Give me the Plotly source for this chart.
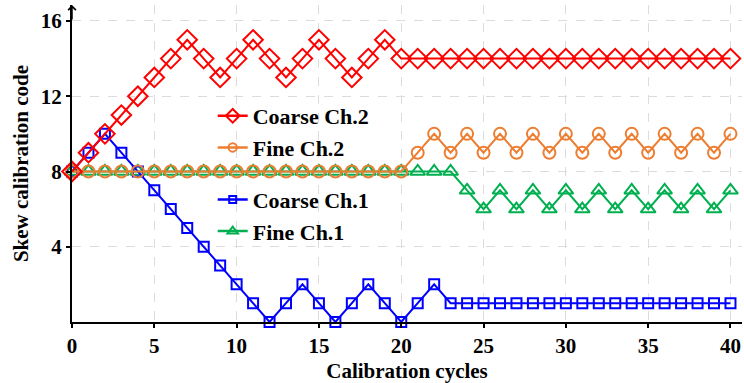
import plotly.graph_objects as go

cycles = list(range(41))

coarse_ch2 = [8, 9, 10, 11, 12, 13, 14, 15, 14, 13, 14, 15, 14, 13, 14, 15, 14, 13, 14, 15, 14] + [14] * 20
fine_ch2 = [8] * 21 + [9, 10, 9, 10, 9, 10, 9, 10, 9, 10, 9, 10, 9, 10, 9, 10, 9, 10, 9, 10]
coarse_ch1 = [8, 9, 10, 9, 8, 7, 6, 5, 4, 3, 2, 1, 0, 1, 2, 1, 0, 1, 2, 1, 0, 1, 2, 1] + [1] * 17
fine_ch1 = [8] * 24 + [7, 6, 7, 6, 7, 6, 7, 6, 7, 6, 7, 6, 7, 6, 7, 6, 7]

x_ticks = [0, 5, 10, 15, 20, 25, 30, 35, 40]
y_ticks = [4, 8, 12, 16]

FONT = "Liberation Serif"
RED = "#FF0000"
ORANGE = "#ED7D31"
BLUE = "#0000FF"
GREEN = "#00B050"

fig = go.Figure()

def add(name, y, color, symbol, size, legend, rank):
    fig.add_trace(go.Scatter(
        x=cycles, y=y, name=name, mode="lines+markers",
        line=dict(color=color, width=2),
        marker=dict(symbol=symbol, size=size, color=color,
                    line=dict(color=color, width=2)),
        showlegend=False, cliponaxis=False,
    ))
    # legend entry with a smaller marker, as in the reference
    fig.add_trace(go.Scatter(
        x=[None], y=[None], name=name, mode="lines+markers",
        line=dict(color=color, width=2.5),
        marker=dict(symbol=symbol, size=size * 0.7, color=color,
                    line=dict(color=color, width=2)),
        legend=legend, legendrank=rank, showlegend=True,
    ))

add("Fine Ch.1", fine_ch1, GREEN, "triangle-up-open", 13, "legend2", 2)
add("Coarse Ch.1", coarse_ch1, BLUE, "square-open", 10, "legend2", 1)
add("Fine Ch.2", fine_ch2, ORANGE, "circle-open", 12, "legend", 2)
add("Coarse Ch.2", coarse_ch2, RED, "diamond-open", 15, "legend", 1)

legend_common = dict(
    bgcolor="rgba(0,0,0,0)", borderwidth=0,
    traceorder="normal", tracegroupgap=0, itemwidth=30,
    xanchor="left", yanchor="top",
)

fig.update_layout(
    width=744, height=383,
    margin=dict(l=72, r=2, t=5, b=55),
    plot_bgcolor="white", paper_bgcolor="white",
    font=dict(family=FONT, size=21, color="black", weight="bold"),
    xaxis=dict(
        range=[0, 40.7], tickvals=x_ticks, ticktext=[str(v) for v in x_ticks],
        showline=True, linecolor="black", linewidth=2,
        ticks="outside", ticklen=4, tickwidth=1.5, tickcolor="black",
        showgrid=True, gridcolor="#dcdcdc", griddash="dash", gridwidth=1,
        zeroline=False,
        title=dict(text="Calibration cycles", font=dict(family=FONT, size=21, weight="bold"), standoff=8),
        tickfont=dict(family=FONT, size=21, weight="bold"),
    ),
    yaxis=dict(
        range=[0, 16.85], tickvals=y_ticks, ticktext=[str(v) for v in y_ticks],
        showline=True, linecolor="black", linewidth=2,
        ticks="outside", ticklen=4, tickwidth=1.5, tickcolor="black",
        showgrid=True, gridcolor="#dcdcdc", griddash="dash", gridwidth=1,
        zeroline=False,
        title=dict(text="Skew calibration code", font=dict(family=FONT, size=21, weight="bold"), standoff=6),
        tickfont=dict(family=FONT, size=21, weight="bold"),
    ),
    legend=dict(x=0.21, y=0.716, font=dict(family=FONT, size=22, weight="bold"), **legend_common),
    legend2=dict(x=0.21, y=0.452, font=dict(family=FONT, size=22, weight="bold"), **legend_common),
)

fig.add_annotation(
    x=0, y=16.85, ax=0, ay=16.0, xref="x", yref="y", axref="x", ayref="y",
    showarrow=True, arrowhead=4, arrowsize=1, arrowwidth=1.5, arrowcolor="black", text="",
)

fig.write_html("out.html")
